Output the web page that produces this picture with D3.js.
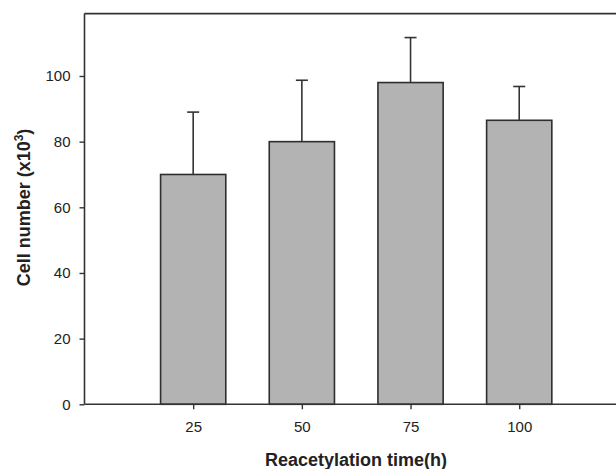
<!DOCTYPE html>
<html>
<head>
<meta charset="utf-8">
<script src="https://cdn.jsdelivr.net/npm/d3@7/dist/d3.min.js"></script>
<style>
  html, body { margin: 0; padding: 0; background: #fff; }
  svg { display: block; }
  text { font-family: Arial, "Liberation Sans", sans-serif; fill: #222; }
</style>
</head>
<body>
<svg id="chart" width="616" height="469"></svg>
<script>
const categories = [25, 50, 75, 100];
const means = [70, 80, 98, 86.5];
const errorTops = [89, 98.7, 111.7, 96.8];
const yTicks = [0, 20, 40, 60, 80, 100];
const xTicks = [25, 50, 75, 100];
const barWidthUnits = 15;

const svg = d3.select("#chart");
const x = d3.scaleLinear().domain([0, 125]).range([84.5, 627.9]);
const y = d3.scaleLinear().domain([0, 119]).range([404.3, 13.6]);

const axisColor = "#333";

// bars
svg.append("g").selectAll("rect").data(categories).join("rect")
  .attr("x", (d) => x(d - barWidthUnits / 2))
  .attr("width", (d) => x(d + barWidthUnits / 2) - x(d - barWidthUnits / 2))
  .attr("y", (d, i) => y(means[i]))
  .attr("height", (d, i) => y(0) - y(means[i]))
  .attr("fill", "#b3b3b3")
  .attr("stroke", "#2e2e2e")
  .attr("stroke-width", 1.6);

// error bars
const eb = svg.append("g").attr("stroke", "#333").attr("stroke-width", 1.6);
eb.selectAll("line.v").data(categories).join("line")
  .attr("class", "v")
  .attr("x1", (d) => x(d)).attr("x2", (d) => x(d))
  .attr("y1", (d, i) => y(means[i])).attr("y2", (d, i) => y(errorTops[i]));
eb.selectAll("line.c").data(categories).join("line")
  .attr("class", "c")
  .attr("x1", (d) => x(d) - 6).attr("x2", (d) => x(d) + 6)
  .attr("y1", (d, i) => y(errorTops[i])).attr("y2", (d, i) => y(errorTops[i]));

// top frame line
svg.append("line")
  .attr("x1", x(0)).attr("x2", x(125)).attr("y1", y(119)).attr("y2", y(119))
  .attr("stroke", axisColor).attr("stroke-width", 1.6);

// y axis
const yAxis = d3.axisLeft(y).tickValues(yTicks).tickSize(5).tickPadding(9).tickFormat(d3.format("d"));
const gy = svg.append("g").attr("transform", `translate(${x(0)},0)`).call(yAxis);
gy.select(".domain").attr("d", `M0,${y(0)}V${y(119)}`).attr("stroke", axisColor).attr("stroke-width", 1.6);
gy.selectAll(".tick line").attr("stroke", axisColor).attr("stroke-width", 1.4);
gy.selectAll(".tick text").attr("font-size", 15).attr("fill", "#2a2a2a")
  .attr("font-family", "Arial, 'Liberation Sans', sans-serif");

// x axis
const xAxis = d3.axisBottom(x).tickValues(xTicks).tickSize(5).tickPadding(12).tickFormat(d3.format("d"));
const gx = svg.append("g").attr("transform", `translate(0,${y(0)})`).call(xAxis);
gx.select(".domain").attr("d", `M${x(0)},0H${x(125)}`).attr("stroke", axisColor).attr("stroke-width", 1.6);
gx.selectAll(".tick line").attr("stroke", axisColor).attr("stroke-width", 1.4);
gx.selectAll(".tick text").attr("font-size", 15).attr("fill", "#2a2a2a")
  .attr("font-family", "Arial, 'Liberation Sans', sans-serif");

// axis titles
svg.append("text")
  .attr("x", 356).attr("y", 466)
  .attr("text-anchor", "middle")
  .attr("font-size", 18).attr("font-weight", "bold")
  .text("Reacetylation time(h)");

const yt = svg.append("text")
  .attr("transform", "translate(30,207.5) rotate(-90)")
  .attr("text-anchor", "middle")
  .attr("font-size", 18).attr("font-weight", "bold");
yt.append("tspan").text("Cell number (x10");
yt.append("tspan").attr("dy", -7).attr("font-size", 12).text("3");
yt.append("tspan").attr("dy", 7).text(")");
</script>
</body>
</html>
